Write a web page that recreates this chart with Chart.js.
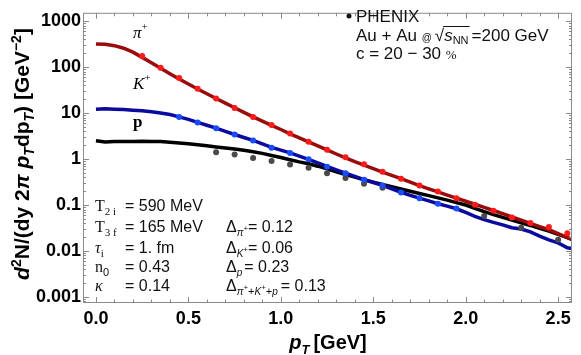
<!DOCTYPE html>
<html>
<head>
<meta charset="utf-8">
<script src="https://cdn.jsdelivr.net/npm/chart.js@4"></script>
<style>
html, body { margin: 0; padding: 0; background: #fff; }
</style>
</head>
<body>
<canvas id="c" width="581" height="355"></canvas>
<script>
// model curves (pT grid shared by the three curves)
var curvePt = [0.00, 0.05, 0.10, 0.15, 0.20, 0.25, 0.30, 0.35, 0.40, 0.45, 0.50, 0.55, 0.60, 0.65, 0.70, 0.75, 0.80, 0.85, 0.90, 0.95,
  1.00, 1.05, 1.10, 1.15, 1.20, 1.25, 1.30, 1.35, 1.40, 1.45, 1.50, 1.55, 1.60, 1.65, 1.70, 1.75, 1.80, 1.85, 1.90, 1.95,
  2.00, 2.05, 2.10, 2.15, 2.20, 2.25, 2.30, 2.35, 2.40, 2.45, 2.50, 2.55, 2.58];
var pionCurve = [320, 313, 293, 258, 212, 163, 124, 94, 72, 55, 43, 33.5, 26.3, 20.8, 16.5, 13.1, 10.4, 8.3, 6.7, 5.4,
  4.4, 3.55, 2.9, 2.37, 1.93, 1.58, 1.29, 1.06, 0.88, 0.74, 0.62, 0.52, 0.44, 0.375, 0.315, 0.265, 0.225, 0.193, 0.165, 0.142,
  0.121, 0.104, 0.089, 0.076, 0.065, 0.055, 0.047, 0.040, 0.034, 0.029, 0.024, 0.0195, 0.0175];
var kaonCurve = [12.2, 12.4, 12.2, 12.0, 11.6, 11.2, 10.7, 10.1, 9.3, 8.3, 7.3, 6.3, 5.45, 4.7, 4.0, 3.42, 2.95, 2.55, 2.15, 1.8,
  1.56, 1.36, 1.16, 0.99, 0.83, 0.69, 0.585, 0.495, 0.42, 0.357, 0.31, 0.267, 0.226, 0.19, 0.163, 0.141, 0.123, 0.107, 0.095, 0.083,
  0.069, 0.057, 0.048, 0.042, 0.037, 0.032, 0.030, 0.026, 0.021, 0.0175, 0.015, 0.0118, 0.0112];
var protonCurve = [2.5, 2.35, 2.42, 2.4, 2.42, 2.44, 2.42, 2.4, 2.33, 2.25, 2.15, 2.06, 1.95, 1.84, 1.74, 1.65, 1.55, 1.45, 1.33, 1.2,
  1.08, 0.97, 0.87, 0.79, 0.7, 0.61, 0.53, 0.46, 0.405, 0.355, 0.315, 0.28, 0.25, 0.224, 0.2, 0.178, 0.16, 0.143, 0.128, 0.113,
  0.1, 0.085, 0.072, 0.062, 0.054, 0.047, 0.041, 0.036, 0.031, 0.027, 0.023, 0.0195, 0.0176];

// PHENIX data points
var pionPt = [0.25, 0.35, 0.45, 0.55, 0.65, 0.75, 0.85, 0.95, 1.05, 1.15, 1.25, 1.35, 1.45, 1.55, 1.65, 1.75, 1.85, 1.95, 2.05, 2.15, 2.25, 2.35, 2.45, 2.55];
var pionData = [175, 97, 58, 34, 20.7, 12.9, 8.26, 5.53, 3.58, 2.39, 1.6, 1.10, 0.774, 0.533, 0.375, 0.267, 0.197, 0.141, 0.102, 0.075, 0.0536, 0.0407, 0.0335, 0.0243];
var kaonPt = [0.45, 0.55, 0.65, 0.75, 0.85, 0.95, 1.05, 1.15, 1.25, 1.35, 1.45, 1.55, 1.65, 1.75, 1.85, 1.95];
var kaonData = [8.26, 6.27, 4.69, 3.41, 2.55, 1.76, 1.36, 0.986, 0.679, 0.494, 0.357, 0.267, 0.188, 0.141, 0.107, 0.084];
var protonPt = [0.65, 0.75, 0.85, 0.95, 1.05, 1.15, 1.25, 1.35, 1.45, 1.55, 2.1, 2.3, 2.5];
var protonData = [1.40, 1.26, 1.05, 0.908, 0.763, 0.648, 0.494, 0.388, 0.29, 0.239, 0.058, 0.032, 0.0176];

var xTicks = [0.0, 0.5, 1.0, 1.5, 2.0, 2.5];
var yTicks = [0.001, 0.01, 0.1, 1, 10, 100, 1000];
var yTickLabels = ['0.001', '0.01', '0.1', '1', '10', '100', '1000'];

var SANS = '"Liberation Sans", Arial, sans-serif';
var SERIF = '"Liberation Serif", "Times New Roman", serif';

function pairs(xs, ys) {
  var out = [];
  for (var i = 0; i < xs.length; i++) {
    out.push({ x: xs[i], y: ys[i] });
  }
  return out;
}

function curve(data, color) {
  return { data: data, borderColor: color, borderWidth: 3.5, pointRadius: 0, showLine: true, tension: 0, fill: false, order: 2 };
}

function dots(data, color) {
  return { data: data, backgroundColor: color, borderWidth: 0, pointRadius: 3, showLine: false, order: 1 };
}

// draws a list of text runs left to right, returns the end x
function runs(ctx, x, y, parts) {
  for (var i = 0; i < parts.length; i++) {
    var p = parts[i];
    ctx.font = p.f;
    ctx.fillText(p.t, x, y + (p.dy || 0));
    x += ctx.measureText(p.t).width + (p.sp || 0);
  }
  return x;
}

function runsWidth(ctx, parts) {
  var w = 0;
  for (var i = 0; i < parts.length; i++) {
    ctx.font = parts[i].f;
    w += ctx.measureText(parts[i].t).width + (parts[i].sp || 0);
  }
  return w;
}

var frameTicks = {
  id: 'frameTicks',
  afterDatasetsDraw: function (chart) {
    var ctx = chart.ctx;
    var a = chart.chartArea;
    var xs = chart.scales.x;
    var ys = chart.scales.y;
    ctx.save();
    ctx.strokeStyle = '#8a8a8a';
    ctx.lineWidth = 1;
    ctx.strokeRect(a.left + 0.5, a.top + 0.5, a.right - a.left - 1, a.bottom - a.top - 1);
    ctx.beginPath();
    var i, k, px, len;
    for (i = 0; i <= 26; i++) {
      px = Math.round(xs.getPixelForValue(i / 10)) + 0.5;
      if (px > a.right - 1) {
        continue;
      }
      len = (i % 5 === 0) ? 6 : 3.5;
      ctx.moveTo(px, a.bottom);
      ctx.lineTo(px, a.bottom - len);
      ctx.moveTo(px, a.top);
      ctx.lineTo(px, a.top + len);
    }
    for (i = -4; i <= 3; i++) {
      for (k = 1; k <= 9; k++) {
        var v = k * Math.pow(10, i);
        if (v < ys.min || v > ys.max) {
          continue;
        }
        var py = Math.round(ys.getPixelForValue(v)) + 0.5;
        len = (k === 1) ? 6 : 3;
        ctx.moveTo(a.left, py);
        ctx.lineTo(a.left + len, py);
        ctx.moveTo(a.right, py);
        ctx.lineTo(a.right - len, py);
      }
    }
    ctx.stroke();
    ctx.restore();
  }
};

var labels = {
  id: 'labels',
  afterDraw: function (chart) {
    var ctx = chart.ctx;
    ctx.save();
    ctx.fillStyle = '#000';
    ctx.textBaseline = 'alphabetic';
    ctx.textAlign = 'left';

    // y axis title
    var b21 = 'bold 21px ' + SANS;
    var bi21 = 'italic bold 21px ' + SANS;
    var b14 = 'bold 14px ' + SANS;
    var bi14 = 'italic bold 14px ' + SANS;
    var yTitle = [
      { t: 'd', f: bi21 }, { t: '2', f: b14, dy: -8 }, { t: 'N/(dy 2', f: b21 }, { t: '\u03c0', f: bi21 },
      { t: ' ', f: b21 }, { t: 'p', f: bi21 }, { t: 'T', f: bi14, dy: 5 }, { t: 'dp', f: b21 }, { t: 'T', f: bi14, dy: 5 },
      { t: ') [GeV', f: b21 }, { t: '\u22122', f: b14, dy: -8 }, { t: ']', f: b21 }
    ];
    ctx.save();
    ctx.translate(29, 154);
    ctx.rotate(-Math.PI / 2);
    runs(ctx, -runsWidth(ctx, yTitle) / 2, 0, yTitle);
    ctx.restore();

    // x axis title
    var b20 = 'bold 20px ' + SANS;
    var bi20 = 'italic bold 20px ' + SANS;
    var bi13 = 'italic bold 13px ' + SANS;
    var xTitle = [{ t: 'p', f: bi20 }, { t: 'T', f: bi13, dy: 5, sp: 4 }, { t: '[GeV]', f: b20 }];
    runs(ctx, 328 - runsWidth(ctx, xTitle) / 2, 349, xTitle);

    // curve labels
    var si17 = 'italic 17px ' + SERIF;
    var s11 = '11px ' + SERIF;
    runs(ctx, 133, 38, [{ t: '\u03c0', f: si17 }, { t: '+', f: s11, dy: -8 }]);
    runs(ctx, 133, 89, [{ t: 'K', f: si17 }, { t: '+', f: s11, dy: -8 }]);
    runs(ctx, 133, 127, [{ t: 'p', f: 'bold 17px ' + SERIF }]);

    // legend box, top right
    var r16 = '16px ' + SANS;
    var r17 = '17px ' + SANS;
    ctx.fillStyle = '#111';
    ctx.beginPath();
    ctx.arc(349, 16, 2.5, 0, Math.PI * 2);
    ctx.fill();
    runs(ctx, 356, 22, [{ t: 'PHENIX', f: r17 }]);
    var xe = runs(ctx, 356, 41, [{ t: 'Au + Au ', f: r17 }, { t: '@', f: '10px ' + SANS, sp: 3 }, { t: '\u221a', f: r17 }]);
    var xs0 = xe;
    xe = runs(ctx, xe, 41, [{ t: 's', f: 'italic 17px ' + SANS }, { t: 'NN', f: '11px ' + SANS, dy: 3, sp: 3 }]);
    ctx.strokeStyle = '#111';
    ctx.lineWidth = 1;
    ctx.beginPath();
    ctx.moveTo(xs0 - 1, 26.5);
    ctx.lineTo(xe - 2, 26.5);
    ctx.stroke();
    runs(ctx, xe, 41, [{ t: '=200 GeV', f: r17 }]);
    runs(ctx, 356, 59, [{ t: 'c = 20 \u2212 30 ', f: r17 }, { t: '%', f: '13px ' + SERIF }]);

    // model parameters
    var s16 = '16px ' + SERIF;
    var si16 = 'italic 16px ' + SERIF;
    var sub = '11px ' + SERIF;
    var subSans = '11px ' + SANS;
    var subI = 'italic 10px ' + SANS;
    var sup = '8px ' + SANS;
    runs(ctx, 95, 211, [{ t: 'T', f: s16 }, { t: '2 i', f: sub, dy: 4 }]);
    runs(ctx, 125, 211, [{ t: '= 590 MeV', f: r16 }]);
    runs(ctx, 95, 232, [{ t: 'T', f: s16 }, { t: '3 f', f: sub, dy: 4 }]);
    runs(ctx, 125, 232, [{ t: '= 165 MeV', f: r16 }]);
    runs(ctx, 95, 253, [{ t: '\u03c4', f: si16 }, { t: 'i', f: sub, dy: 4 }]);
    runs(ctx, 125, 253, [{ t: '= 1. fm', f: r16 }]);
    runs(ctx, 95, 272, [{ t: 'n', f: s16 }, { t: '0', f: subSans, dy: 4 }]);
    runs(ctx, 125, 272, [{ t: '= 0.43', f: r16 }]);
    runs(ctx, 95, 291, [{ t: '\u03ba', f: si16 }]);
    runs(ctx, 125, 291, [{ t: '= 0.14', f: r16 }]);

    runs(ctx, 226, 232, [{ t: '\u0394', f: r16 }, { t: '\u03c0', f: subI, dy: 4 }, { t: '+', f: sup, dy: -1 }, { t: '= 0.12', f: r16 }]);
    runs(ctx, 226, 253, [{ t: '\u0394', f: r16 }, { t: 'K', f: subI, dy: 4 }, { t: '+', f: sup, dy: -1 }, { t: '= 0.06', f: r16 }]);
    runs(ctx, 226, 272, [{ t: '\u0394', f: r16 }, { t: 'p', f: subI, dy: 4, sp: 2 }, { t: '= 0.23', f: r16 }]);
    runs(ctx, 226, 291, [{ t: '\u0394', f: r16 }, { t: '\u03c0', f: subI, dy: 4 }, { t: '+', f: sup, dy: -1 }, { t: '+', f: subSans, dy: 4 },
      { t: 'K', f: subI, dy: 4 }, { t: '+', f: sup, dy: -1 }, { t: '+', f: subSans, dy: 4 }, { t: 'p', f: subI, dy: 4, sp: 3 }, { t: '= 0.13', f: r16 }]);
    ctx.restore();
  }
};

var chart = new Chart(document.getElementById('c').getContext('2d'), {
  type: 'scatter',
  data: {
    datasets: [
      curve(pairs(curvePt, pionCurve), '#9a0b0b'),
      curve(pairs(curvePt, kaonCurve), '#0a0a9e'),
      curve(pairs(curvePt, protonCurve), '#000000'),
      dots(pairs(pionPt, pionData), '#ff1a1a'),
      dots(pairs(kaonPt, kaonData), '#1a4cff'),
      dots(pairs(protonPt, protonData), '#4a4a4a')
    ]
  },
  options: {
    responsive: false,
    animation: false,
    devicePixelRatio: 1,
    layout: { padding: { left: 0, right: 9, top: 2, bottom: 0 } },
    plugins: { legend: { display: false }, tooltip: { enabled: false } },
    scales: {
      x: {
        type: 'linear',
        min: -0.07,
        max: 2.575,
        grid: { display: false, drawTicks: false },
        border: { display: false },
        ticks: {
          color: '#000',
          font: { family: SANS, size: 18, weight: 'bold' },
          padding: 5,
          maxRotation: 0,
          callback: function (v) { return v.toFixed(1); }
        },
        afterBuildTicks: function (scale) {
          scale.ticks = xTicks.map(function (v) { return { value: v }; });
        },
        afterFit: function (scale) { scale.height = 52; }
      },
      y: {
        type: 'logarithmic',
        min: 0.00074,
        max: 1520,
        grid: { display: false, drawTicks: false },
        border: { display: false },
        ticks: {
          color: '#000',
          font: { family: SANS, size: 18, weight: 'bold' },
          padding: 2,
          callback: function (v) {
            var i = yTicks.indexOf(v);
            return i < 0 ? '' : yTickLabels[i];
          }
        },
        afterBuildTicks: function (scale) {
          scale.ticks = yTicks.map(function (v) { return { value: v }; });
        },
        afterFit: function (scale) { scale.width = 83; }
      }
    }
  },
  plugins: [frameTicks, labels]
});
</script>
</body>
</html>
